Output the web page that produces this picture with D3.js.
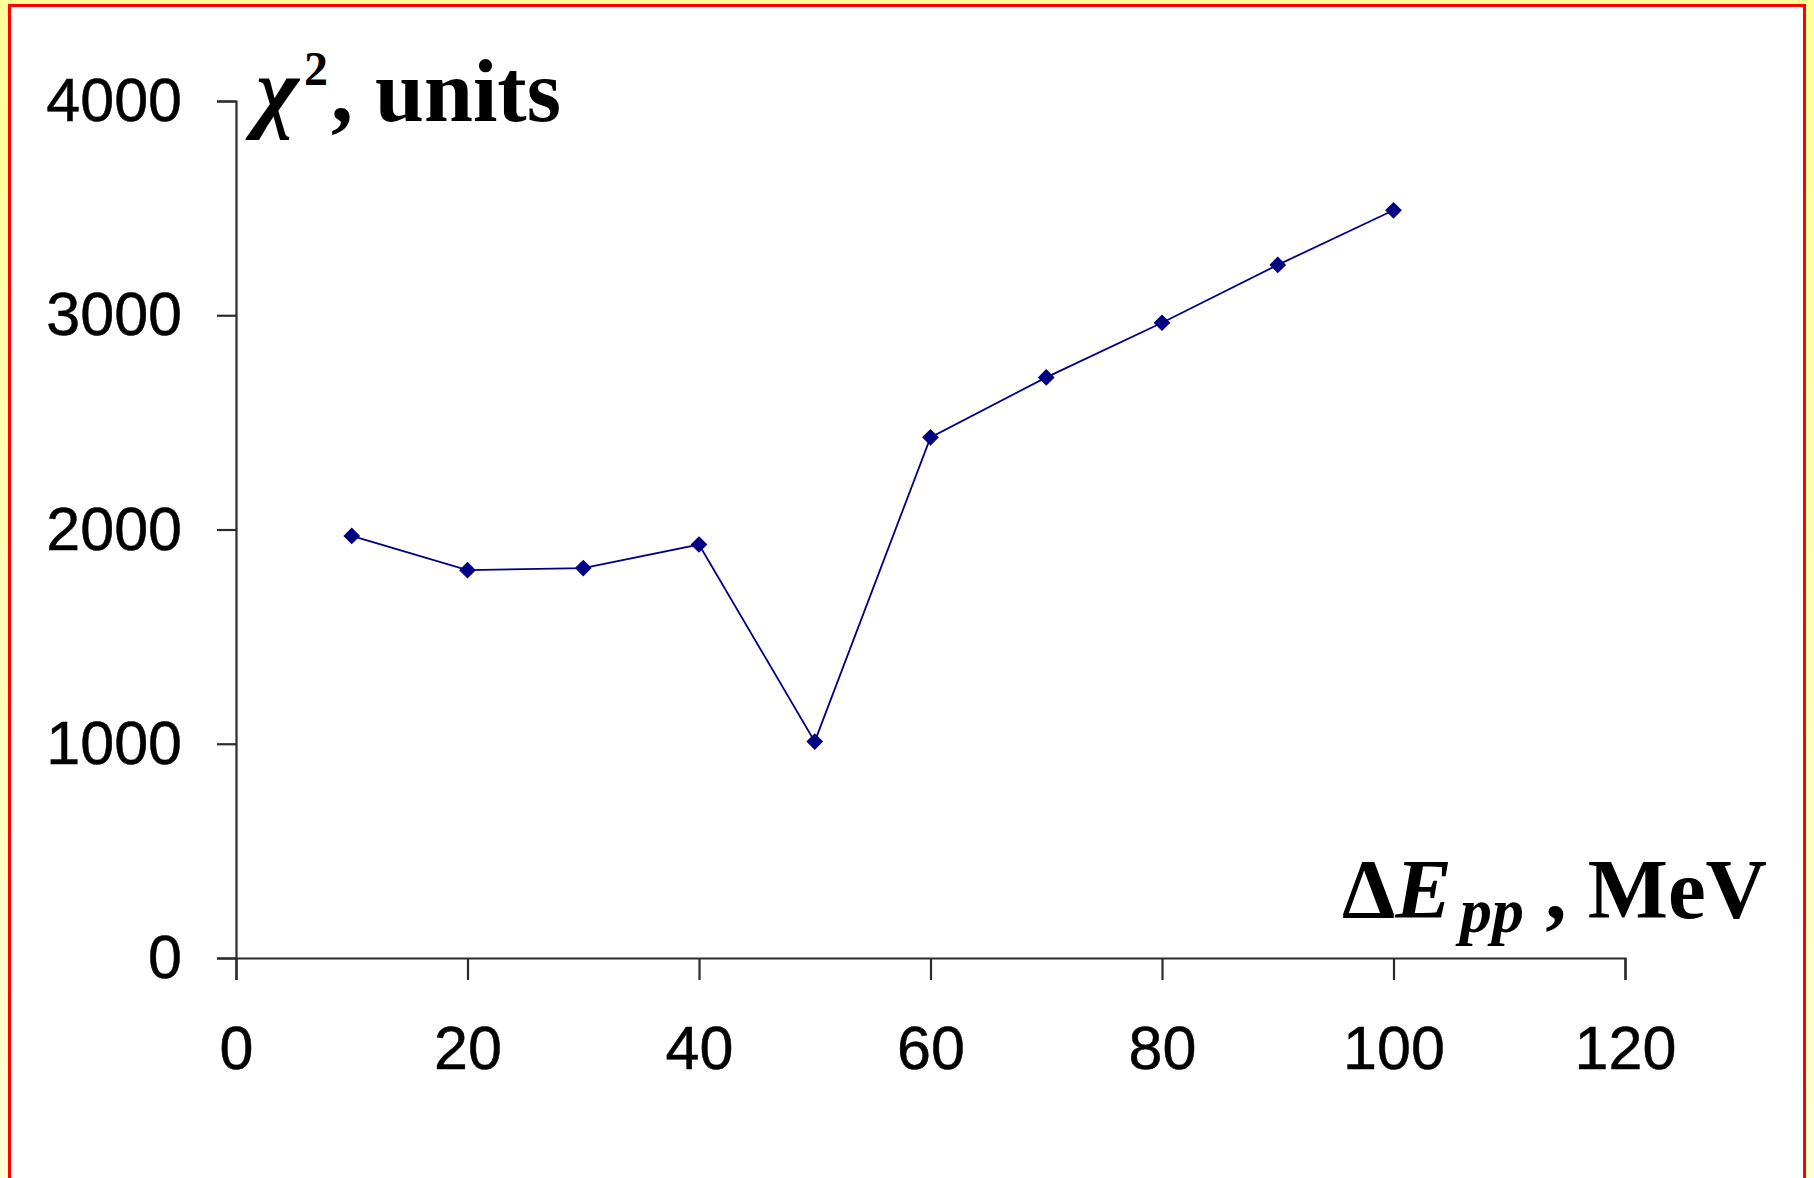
<!DOCTYPE html>
<html>
<head>
<meta charset="utf-8">
<script src="https://cdn.jsdelivr.net/npm/d3@7"></script>
<style>
  body { margin: 0; padding: 0; background: #fff; }
  svg { display: block; }
</style>
</head>
<body>
<svg id="chart"></svg>
<script>
// data
const energies = [10, 20, 30, 40, 50, 60, 70, 80, 90, 100];
const chi2 = [1970, 1810, 1820, 1930, 1010, 2430, 2710, 2965, 3235, 3490];
const xTicks = [0, 20, 40, 60, 80, 100, 120];
const yTicks = [0, 1000, 2000, 3000, 4000];

const width = 1814, height = 1178;
const lineColor = "#000080";
const axisColor = "#2b2b2b";

const svg = d3.select("#chart")
    .attr("width", width)
    .attr("height", height);

// yellow page behind the framed panel
const defs = svg.append("defs");
const grad = defs.append("linearGradient")
    .attr("id", "bg").attr("x1", 0).attr("y1", 0).attr("x2", 0).attr("y2", 1);
grad.append("stop").attr("offset", "0%").attr("stop-color", "#ffff99");
grad.append("stop").attr("offset", "100%").attr("stop-color", "#ffffd4");

svg.append("rect")
    .attr("width", width).attr("height", height)
    .attr("fill", "url(#bg)");

svg.append("rect")
    .attr("x", 9.5).attr("y", 5.5)
    .attr("width", 1795).attr("height", 1190)
    .attr("fill", "#fff")
    .attr("stroke", "#ff0000")
    .attr("stroke-width", 3);

const x = d3.scaleLinear().domain([0, 120]).range([236, 1625]);
const y = d3.scaleLinear().domain([0, 4000]).range([958, 101]);

const tickFont = "'Liberation Sans', Arial, sans-serif";
const serif = "'Liberation Serif', 'Times New Roman', serif";

// axes
const yAxis = d3.axisLeft(y)
    .tickValues(yTicks)
    .tickFormat(d3.format("d"))
    .tickSize(19)
    .tickPadding(35);

const xAxis = d3.axisBottom(x)
    .tickValues(xTicks)
    .tickFormat(d3.format("d"))
    .tickSize(22)
    .tickPadding(46);

const gy = svg.append("g")
    .attr("transform", `translate(${x(0)},0)`)
    .call(yAxis);

const gx = svg.append("g")
    .attr("transform", `translate(0,${y(0)})`)
    .call(xAxis);

[gx, gy].forEach(g => {
  g.select(".domain").attr("stroke", axisColor).attr("stroke-width", 2.2);
  g.selectAll(".tick line").attr("stroke", axisColor).attr("stroke-width", 2.2);
  g.selectAll(".tick text")
      .attr("fill", "#000")
      .attr("stroke", "#000")
      .attr("stroke-width", 0.5)
      .attr("font-family", tickFont)
      .attr("font-size", 61);
});

// series line
const line = d3.line()
    .x((d, i) => x(energies[i]))
    .y(d => y(d));

svg.append("path")
    .datum(chi2)
    .attr("fill", "none")
    .attr("stroke", lineColor)
    .attr("stroke-width", 1.8)
    .attr("d", line);

// diamond markers
const marker = d3.symbol().type(d3.symbolSquare).size(140);
svg.append("g")
  .selectAll("path")
  .data(chi2)
  .join("path")
    .attr("d", marker)
    .attr("fill", lineColor)
    .attr("transform", (d, i) => `translate(${x(energies[i])},${y(d)}) rotate(45)`);

// y title: chi^2, units
const yt = svg.append("text")
    .attr("y", 121)
    .attr("font-family", serif)
    .attr("font-weight", "bold")
    .attr("font-size", 88)
    .attr("fill", "#000");
yt.append("tspan").attr("x", 256).attr("font-style", "italic").attr("font-size", 92).text("χ");
yt.append("tspan").attr("x", 304).attr("font-size", 48).attr("dy", -36).text("2");
yt.append("tspan").attr("x", 331).attr("dy", 36).text(", units");

// x title: ΔE_pp, MeV
const xt = svg.append("text")
    .attr("x", 1767).attr("y", 918)
    .attr("text-anchor", "end")
    .attr("font-family", serif)
    .attr("font-weight", "bold")
    .attr("font-size", 85)
    .attr("fill", "#000");
xt.append("tspan").text("Δ");
xt.append("tspan").attr("font-style", "italic").text("E");
xt.append("tspan").attr("font-style", "italic").attr("font-size", 64)
    .attr("dx", 8).attr("dy", 14).text("pp");
xt.append("tspan").attr("dy", -14).text(" , MeV");
</script>
</body>
</html>
